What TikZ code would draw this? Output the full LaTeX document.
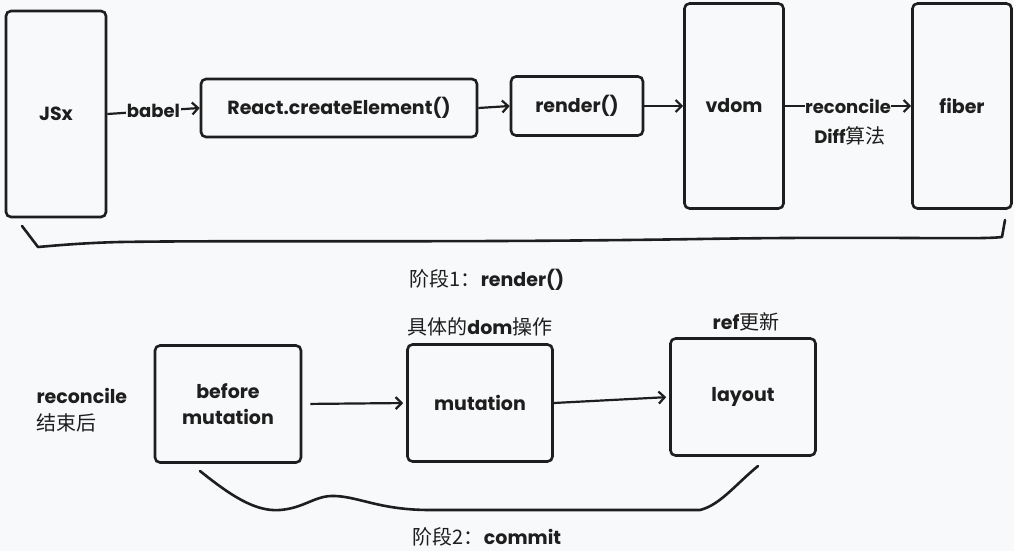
\documentclass[tikz,border=0pt]{standalone}
\usepackage{fontspec}
\setmainfont{Poppins}
\newfontfamily\cjk{Noto Sans CJK SC}
\usetikzlibrary{arrows.meta}
\definecolor{ink}{HTML}{1E1E1E}
\definecolor{paper}{HTML}{F8F9FA}

\begin{document}
\begin{tikzpicture}[x=1pt,y=-1pt,
    box/.style={draw=ink,line width=2.6pt,rounded corners=5pt,inner sep=0pt,align=center,
      text=ink,font=\fontsize{19}{26}\selectfont\bfseries},
    flow/.style={draw=ink,line width=2.2pt,-{Straight Barb[length=6pt,width=12pt]}},
    lbl/.style={fill=paper,inner sep=0.5pt,text=ink,font=\fontsize{18}{20}\selectfont\bfseries},
    note/.style={text=ink,font=\fontsize{20}{27}\selectfont},
    brace/.style={draw=ink,line width=2.6pt,line cap=round,line join=round}]
    \fill[paper] (0,0) rectangle (1014,551);
    \useasboundingbox (0,0) rectangle (1014,551);
    % stage 1
    \node[box,minimum width=100pt,minimum height=206pt] (jsx) at (56,114) {JSx};
    \node[box,minimum width=276pt,minimum height=58pt] (create) at (339,108) {React.createElement()};
    \node[box,minimum width=132pt,minimum height=59pt] (render) at (577,106) {render()};
    \node[box,minimum width=99pt,minimum height=205pt] (vdom) at (734,106) {vdom};
    \node[box,minimum width=99pt,minimum height=205pt] (fiber) at (962,106) {fiber};
    \draw[flow] (jsx.east) -- node[lbl] {babel} (create.west);
    \draw[flow] (create.east) -- (render.west);
    \draw[flow] (render.east) -- (vdom.west);
    \draw[flow] (vdom.east) -- node[lbl] (rec) {reconcile} (fiber.west);
    \node[note] (diff) at (850,136) {{\bfseries\fontsize{18}{20}\selectfont Diff}{\cjk 算法}};
    \coordinate (s1a) at (1005,220);
    \coordinate (s1b) at (22,226);
    \draw[brace] (s1a) -- (1002,237) .. controls (980,240) and (880,236) .. (700,239)
      .. controls (450,243) and (250,240) .. (120,242) .. controls (80,243) and (50,246) .. (38,247) -- (s1b);
    \node[note] (stage1) at (487,280) {{\cjk 阶段1：}{\bfseries\fontsize{19}{20}\selectfont render()}};
    % stage 2
    \node[box,minimum width=146pt,minimum height=117pt] (before) at (228,404) {before\\mutation};
    \node[box,minimum width=145pt,minimum height=117pt] (mutation) at (480,403) {mutation};
    \node[box,minimum width=145pt,minimum height=117pt] (layout) at (743,397) {layout};
    \draw[flow,shorten <=8pt,shorten >=3pt] (before.east) -- (mutation.west);
    \draw[flow,shorten >=3pt] (mutation.east) -- (layout.west);
    \node[note,align=left,anchor=west] (recdone) at (33,410) {{\bfseries\fontsize{19}{20}\selectfont reconcile}\\{\cjk 结束后}};
    \node[note] (domop) at (480,327) {{\cjk 具体的}{\bfseries\fontsize{19}{20}\selectfont dom}{\cjk 操作}};
    \node[note] (refup) at (746,322) {{\bfseries\fontsize{19}{20}\selectfont ref}{\cjk 更新}};
    \coordinate (s2a) at (200,471);
    \coordinate (s2b) at (758,466);
    \draw[brace] (s2a) .. controls (230,495) and (255,512) .. (280,510)
      .. controls (305,508) and (315,495) .. (335,496) .. controls (360,497) and (380,510) .. (430,510)
      -- (700,510) .. controls (720,505) and (735,485) .. (s2b);
    \node[note] (stage2) at (487,537) {{\cjk 阶段2：}{\bfseries\fontsize{19}{20}\selectfont commit}};
\end{tikzpicture}
\end{document}
